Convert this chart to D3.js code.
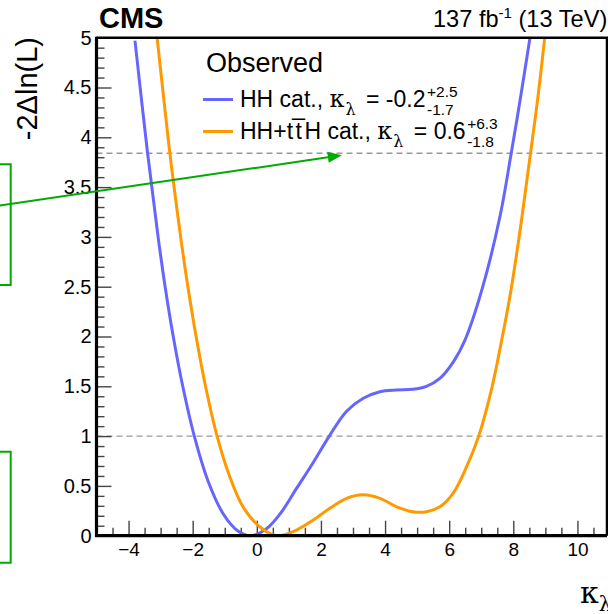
<!DOCTYPE html>
<html>
<head>
<meta charset="utf-8">
<script src="https://cdn.jsdelivr.net/npm/d3@7"></script>
<style>
body { margin: 0; background: #fff; }
text { font-family: "Liberation Sans", Arial, Helvetica, sans-serif; fill: #000; }
.greek { font-family: "DejaVu Serif", "Liberation Serif", serif; }
</style>
</head>
<body>
<svg width="608" height="614"></svg>
<script>
//scan points (kappa_lambda, -2 dNLL)
var hhKappa = [-3.80, -3.41, -3.075, -2.85, -2.59, -2.31, -1.95, -1.51, -1.03, -0.61, -0.20, 0.30, 0.74, 1.24, 1.76, 2.26, 2.80, 3.32, 3.84, 4.36, 4.87, 5.29, 5.71, 6.12, 6.50, 7.03, 7.58, 7.94, 8.23, 8.52];
var hhNll = [4.97, 3.85, 2.99, 2.48, 1.97, 1.50, 1.00, 0.54, 0.21, 0.053, 0.00, 0.07, 0.225, 0.475, 0.735, 1.00, 1.25, 1.38, 1.446, 1.463, 1.47, 1.50, 1.58, 1.74, 1.97, 2.48, 3.20, 3.85, 4.41, 5.00];

var tthKappa = [-3.11, -2.92, -2.73, -2.56, -2.35, -2.14, -1.86, -1.57, -1.24, -0.84, -0.43, 0.09, 0.62, 1.24, 1.76, 2.28, 2.80, 3.31, 3.84, 4.36, 4.87, 5.29, 5.71, 6.12, 6.54, 6.92, 7.32, 7.63, 7.93, 8.27, 8.54, 8.77, 8.98];
var tthNll = [5.00, 4.44, 3.89, 3.45, 2.94, 2.48, 1.94, 1.455, 1.00, 0.59, 0.29, 0.09, 0.00, 0.057, 0.158, 0.275, 0.375, 0.41, 0.375, 0.29, 0.24, 0.24, 0.29, 0.425, 0.69, 1.00, 1.47, 1.95, 2.47, 3.20, 3.85, 4.41, 5.00];

//legend values
var seriesNames = [["HH cat., "], ["HH+t", "t\u0305", "H cat., "]];
var bestFit = ["-0.2", "0.6"];
var errUp = ["+2.5", "+6.3"];
var errDown = ["-1.7", "-1.8"];

//axes
var xTicks = [-4, -2, 0, 2, 4, 6, 8, 10];
var xTickLabels = ["\u22124", "\u22122", "0", "2", "4", "6", "8", "10"];
var yTicks = [0, 0.5, 1, 1.5, 2, 2.5, 3, 3.5, 4, 4.5, 5];
var yTickLabels = ["0", "0.5", "1", "1.5", "2", "2.5", "3", "3.5", "4", "4.5", "5"];

//68% and 95% CL levels
var refLevels = [1, 3.84];

var colors = ["#6666ff", "#ff9900"];

var svg = d3.select("svg"),
    width = +svg.attr("width"),
    height = +svg.attr("height");

var frame = { left: 96.5, right: 607, top: 37.7, bottom: 535.7 };

var scaleX = d3.scaleLinear().domain([-5, 11]).range([frame.left, 609.5]);
var scaleY = d3.scaleLinear().domain([0, 5]).range([frame.bottom, frame.top]);

svg.append("rect").attr("width", width).attr("height", height).attr("fill", "#fff");

svg.append("clipPath").attr("id", "clip")
    .append("rect")
    .attr("x", frame.left).attr("y", frame.top - 2)
    .attr("width", frame.right - frame.left).attr("height", frame.bottom - frame.top + 2);

//dashed lines
svg.append("g").selectAll("line")
    .data(refLevels)
    .enter().append("line")
    .attr("x1", frame.left).attr("x2", frame.right)
    .attr("y1", d => scaleY(d)).attr("y2", d => scaleY(d))
    .attr("stroke", "#999").attr("stroke-width", 1.4)
    .attr("stroke-dasharray", "6,4");

//ticks
var minorX = d3.range(-5, 11.01, 0.5).filter(v => v % 2 !== 0);
var minorY = d3.range(0, 5.001, 0.1).map(v => Math.round(v * 10) / 10).filter(v => Math.round(v * 10) % 5 !== 0);

function styleAxis(g) {
    g.select(".domain").remove();
    g.selectAll(".tick line").attr("stroke", "#444").attr("stroke-width", 1.4);
}

var gx = svg.append("g").attr("transform", "translate(0," + frame.bottom + ")");
gx.append("g").call(d3.axisBottom(scaleX).tickValues(minorX).tickSize(-8).tickFormat("")).call(styleAxis);
gx.append("g").call(d3.axisBottom(scaleX).tickValues(xTicks).tickSize(-15).tickPadding(7)
    .tickFormat((d, i) => xTickLabels[i])).call(styleAxis)
    .selectAll("text").attr("font-size", 19).attr("font-family", "Liberation Sans, Arial, sans-serif").attr("fill", "#000");

var gy = svg.append("g").attr("transform", "translate(" + frame.left + ",0)");
gy.append("g").call(d3.axisLeft(scaleY).tickValues(minorY).tickSize(-8).tickFormat("")).call(styleAxis);
gy.append("g").call(d3.axisLeft(scaleY).tickValues(yTicks).tickSize(-15).tickPadding(5)
    .tickFormat((d, i) => yTickLabels[i])).call(styleAxis)
    .selectAll("text").attr("font-size", 20).attr("font-family", "Liberation Sans, Arial, sans-serif").attr("fill", "#000");

//curves
var line = d3.line()
    .x(d => scaleX(d[0]))
    .y(d => scaleY(d[1]))
    .curve(d3.curveCatmullRom.alpha(0.5));

var curves = [d3.zip(hhKappa, hhNll), d3.zip(tthKappa, tthNll)];
svg.append("g").attr("clip-path", "url(#clip)")
    .selectAll("path")
    .data(curves)
    .enter().append("path")
    .attr("d", line)
    .attr("fill", "none")
    .attr("stroke", (d, i) => colors[i])
    .attr("stroke-width", 3);

//frame
svg.append("path")
    .attr("d", "M" + frame.left + "," + frame.top + "H" + frame.right + "V" + frame.bottom)
    .attr("fill", "none").attr("stroke", "#000").attr("stroke-width", 2.5);
svg.append("path")
    .attr("d", "M" + frame.left + "," + (frame.top - 1) + "V" + frame.bottom + "H" + frame.right)
    .attr("fill", "none").attr("stroke", "#000").attr("stroke-width", 3.2);

//titles
svg.append("text")
    .attr("x", 99).attr("y", 28)
    .attr("font-size", 29).attr("font-weight", "bold")
    .text("CMS");

var lumi = svg.append("text")
    .attr("x", 433).attr("y", 27)
    .attr("font-size", 23.6);
lumi.append("tspan").text("137 fb");
lumi.append("tspan").attr("font-size", 15).attr("dy", -9).text("-1");
lumi.append("tspan").attr("dy", 9).text(" (13 TeV)");

svg.append("text")
    .attr("transform", "translate(37,37) rotate(-90)")
    .attr("text-anchor", "end")
    .attr("font-size", 29)
    .text("-2\u0394ln(L)");

var xLabel = svg.append("text")
    .attr("class", "greek")
    .attr("x", 580).attr("y", 603)
    .attr("font-size", 30);
xLabel.append("tspan").text("\u03ba");
xLabel.append("tspan").attr("font-size", 20).attr("dy", 8).text("\u03bb");

//legend
svg.append("text")
    .attr("x", 206).attr("y", 72)
    .attr("font-size", 27)
    .text("Observed");

var rowY = [106.5, 138.5];
seriesNames.forEach(function (pieces, i) {
    var by = rowY[i];
    svg.append("line")
        .attr("x1", 203).attr("x2", 233)
        .attr("y1", by - 7).attr("y2", by - 7)
        .attr("stroke", colors[i]).attr("stroke-width", 3);
    var t = svg.append("text")
        .attr("x", 240).attr("y", by)
        .attr("font-size", 23);
    pieces.forEach(function (p, j) {
        t.append("tspan").attr("dx", j > 0 ? 2.5 : 0).text(p);
    });
    t.append("tspan").attr("class", "greek").attr("font-size", 24).text("\u03ba");
    t.append("tspan").attr("class", "greek").attr("font-size", 16).attr("dx", 1).attr("dy", 8).text("\u03bb");
    var val = t.append("tspan").attr("dx", 4).attr("dy", -8).text(" = " + bestFit[i]);
    var n = val.node(),
        end = n.getStartPositionOfChar(n.getNumberOfChars() - 1).x + n.getExtentOfChar(n.getNumberOfChars() - 1).width;
    var x0 = end + 1.5;
    svg.append("text").attr("x", x0).attr("y", by - 10).attr("font-size", 15.5).text(errUp[i]);
    svg.append("text").attr("x", x0).attr("y", by + 8).attr("font-size", 15.5).text(errDown[i]);
});

//green annotation overlay
var green = "#00aa00";
svg.append("path")
    .attr("d", "M-5,164.3H10.7V285H-5")
    .attr("fill", "none").attr("stroke", green).attr("stroke-width", 2);
svg.append("path")
    .attr("d", "M-5,451.7H10.7V562.7H-5")
    .attr("fill", "none").attr("stroke", green).attr("stroke-width", 2);

var tip = [scaleX(2.65), scaleY(3.82)],
    tail = [-20, 208.5];
var ang = Math.atan2(tip[1] - tail[1], tip[0] - tail[0]),
    headLen = 14, headW = 5.5;
var base = [tip[0] - headLen * Math.cos(ang), tip[1] - headLen * Math.sin(ang)];
svg.append("line")
    .attr("x1", tail[0]).attr("y1", tail[1])
    .attr("x2", base[0]).attr("y2", base[1])
    .attr("stroke", green).attr("stroke-width", 2);
svg.append("path")
    .attr("d", "M" + tip + "L" + [base[0] + headW * Math.sin(ang), base[1] - headW * Math.cos(ang)] +
        "L" + [base[0] - headW * Math.sin(ang), base[1] + headW * Math.cos(ang)] + "Z")
    .attr("fill", green);
</script>
</body>
</html>
